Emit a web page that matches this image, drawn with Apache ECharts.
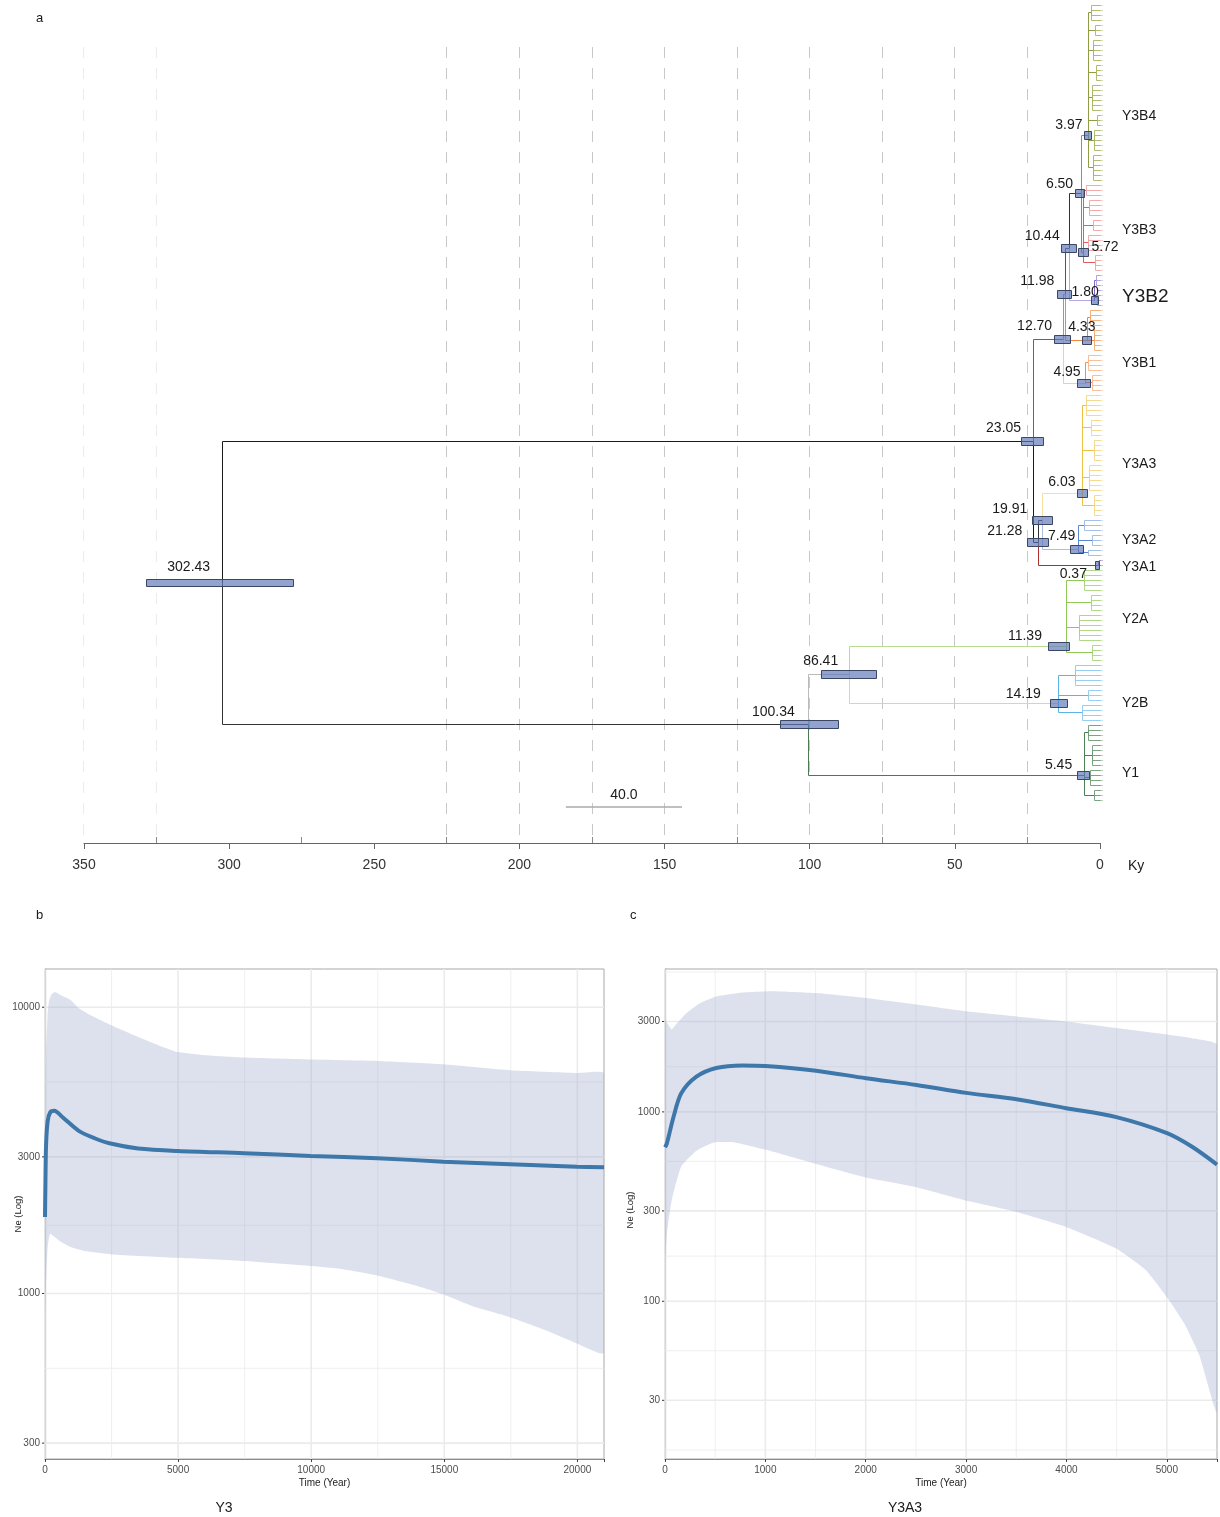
<!DOCTYPE html>
<html><head><meta charset="utf-8">
<script src="https://cdn.jsdelivr.net/npm/echarts@6/dist/echarts.min.js"></script>
<style>html,body{margin:0;padding:0;background:#fff}#c{width:1220px;height:1517px}</style>
</head><body><div id="c"></div>
<script>
// ---------------- DATA: tree (panel a) ----------------
const nodeLabels = ['302.43','23.05','100.34','12.70','21.28','11.98','10.44','6.50','3.97','5.72','1.80','4.33','4.95','19.91','6.03','7.49','0.37','86.41','11.39','14.19','5.45'];
const nodeAges   = [302.43, 23.05, 100.34, 12.70, 21.28, 11.98, 10.44, 6.50, 3.97, 5.72, 1.80, 4.33, 4.95, 19.91, 6.03, 7.49, 0.37, 86.41, 11.39, 14.19, 5.45];
const nodeCIUpper= [328.3, 27.2, 110.2, 15.8, 25.1, 14.7, 13.2, 8.3, 5.4, 7.5, 2.9, 6.1, 7.6, 23.4, 7.9, 10.0, 1.5, 96.1, 17.9, 17.2, 7.9];
const nodeCILower= [277.6, 19.6, 90.3, 10.3, 17.9, 9.8, 8.0, 5.1, 3.1, 4.2, 0.6, 2.9, 3.1, 16.5, 4.5, 5.5, 0.2, 77.2, 10.7, 11.4, 3.8];
const nodeRows   = [115.6, 87.2, 143.8, 66.8, 107.4, 57.8, 48.6, 37.6, 26, 49.4, 59, 67, 75.6, 103, 97.6, 108.8, 112, 133.8, 128.2, 139.6, 154];
const nodeParents= [-1, 0, 0, 1, 1, 3, 5, 6, 7, 7, 6, 5, 3, 4, 13, 13, 4, 2, 17, 17, 2];

const cladeNames     = ['Y3B4','Y3B3','Y3B2','Y3B1','Y3A3','Y3A2','Y3A1','Y2A','Y2B','Y1'];
const cladeLabelRows = [22.2, 45, 58.4, 71.6, 91.8, 107, 112.4, 122.8, 139.6, 153.6];

// sub-structure inside each clade (node index of clade root, sub-node ages, tips per sub-node)
const subRoots = [8, 9, 10, 11, 12, 14, 15, 16, 18, 19, 20];
const subGroupAges = [
  [2.9,1.6,2.2,1.2,2.6,1.0,1.9,2.4],
  [4.8,3.5,2.2,4.0,1.5],
  [1.2,0.8],
  [3.2,2.0],
  [3.8,2.6],
  [4.5,3.0,2.0,3.6,1.8],
  [5.5,2.5,4.0],
  [0.2],
  [5.5,3.0,7.0,2.5],
  [8.5,4.0,6.0],
  [4.0,2.5,3.2,1.8]
];
const subGroupTips = [
  [4,3,5,4,6,3,5,6],
  [3,4,3,4,4],
  [3,4],
  [4,5],
  [4,4],
  [5,4,5,6,5],
  [3,3,2],
  [2],
  [5,4,6,4],
  [5,3,4],
  [4,5,4,3]
];
const treeGridAges = [25,50,75,100,125,150,175,200,225];
const treeFaintGridAges = [325,350];
const treeMinorTickAges = [25,75,125,175,225,275,325];
const scaleBarLength = 40;

// ---------------- DATA: panel b (Y3) ----------------
const bMedT  = [0,15,40,100,200,345,672,1268,1862,2460,3500,4990,7480,9980,12480,14960,17470,19980,21000];
const bMedNe = [1850,2400,3300,4000,4300,4350,4120,3700,3485,3340,3210,3146,3090,3024,2970,2887,2826,2770,2760];
const bUpT   = [0,20,45,100,150,250,375,600,970,1268,1715,2490,3350,4250,4990,6030,7480,9980,12480,14960,17470,19980,21000];
const bUpNe  = [2000,4500,7000,9500,10500,11100,11300,11000,10580,9920,9380,8650,7980,7370,6975,6795,6670,6565,6490,6320,6020,5890,5870];
const bLoT   = [0,40,100,195,522,970,1490,2490,4990,7480,9980,11250,12480,13930,14970,16160,17470,18840,19980,21000];
const bLoNe  = [850,1100,1450,1617,1532,1452,1406,1369,1332,1297,1246,1213,1156,1066,992,896,826,742,669,620];
const bYMajor = [300,1000,3000,10000];
const bYMinor = [547.7,1732,5477];
const bXMajor = [0,5000,10000,15000,20000];
const bXMinor = [2500,7500,12500,17500];

// ---------------- DATA: panel c (Y3A3) ----------------
const cMedT  = [0,18,86,162,313,511,770,1000,1505,2003,2505,3000,3503,3996,4497,5002,5248,5500];
const cMedNe = [650,680,945,1254,1535,1706,1760,1747,1650,1505,1387,1260,1166,1046,938,772,656,527];
const cUpT   = [0,30,68,125,218,352,511,770,1073,1505,2003,2505,3000,3503,3996,4497,5002,5248,5500];
const cUpNe  = [3100,2900,2725,2960,3340,3760,4070,4270,4340,4240,3990,3690,3400,3190,3000,2770,2560,2450,2260];
const cLoT   = [0,20,68,162,313,486,695,1000,1505,2003,2505,3000,3503,3996,4497,4792,5002,5173,5325,5500];
const cLoNe  = [160,230,344,515,624,690,690,632,530,450,400,340,296,247,190,146,105,76.5,51.8,26];
const cYMajor = [30,100,300,1000,3000];
const cYMinor = [16.4,54.8,173.2,547.7,1732,5477];
const cXMajor = [0,1000,2000,3000,4000,5000];
const cXMinor = [500,1500,2500,3500,4500];

// ---------------- STYLE ----------------
const FONT = 'Liberation Sans, Arial, sans-serif';
const edgeStyle = {
  '23.05':'#1a1a1a','100.34':'#333','12.70':'#666','21.28':'#1a1a1a','11.98':'#999','10.44':'#555','6.50':'#333',
  '3.97':'#8e9c44','5.72':'#e25c5c','1.80':'#b8a8e0','4.33':'#f08838','4.95':'#f8c8a8','19.91':'#333',
  '6.03':'#f8e0a0','7.49':'#a8c0e8','0.37':'#b03030','86.41':'#bbbbbb','11.39':'#b8dc90','14.19':'#b0dcf4','5.45':'#4a7a50'
};
const cladeStyle = [
  ['#8e9c44','#a8b460'],['#e25c5c','#f0a0a0'],['#8466c8','#a898dc'],['#f08838','#f5a870'],['#f29050','#f8b890'],
  ['#eec045','#f4d684'],['#5a86d2','#9cb8e6'],['#7a60b0','#7a60b0'],['#90c858','#a8d47a'],['#5cb4e6','#8ccaee'],['#4a8052','#6c9a72']
];
const labelOffset = {
  '302.43':[-12,-16,'right'],'23.05':[-12,-13,'right'],'100.34':[-14,-12,'right'],'12.70':[-11,-13,'right'],
  '21.28':[-16,-11,'right'],'11.98':[-11,-13,'right'],'10.44':[-10,-12,'right'],'6.50':[-8,-9,'right'],
  '3.97':[-6,-10,'right'],'5.72':[8,-5,'left'],'1.80':[4,-8,'right'],'4.33':[8,-13,'right'],'4.95':[-5,-11,'right'],
  '19.91':[-15,-11,'right'],'6.03':[-7,-11,'right'],'7.49':[-3,-13,'right'],'0.37':[-12,9,'right'],
  '86.41':[-11,-13,'right'],'11.39':[-25,-10,'right'],'14.19':[-18,-9,'right'],'5.45':[-12,-10,'right']
};
const snap = v => Math.round(v - 0.5) + 0.5;

// ---------------- build tree edges ----------------
const edges = [], edgeColors = [], edgeW = [], tipRows = [], tipColors = [];
for (let i = 0; i < nodeAges.length; i++) {
  const p = nodeParents[i];
  if (p < 0) continue;
  edges.push([nodeAges[p], nodeRows[p], nodeAges[i], nodeRows[i]]);
  edgeColors.push(edgeStyle[nodeLabels[i]]); edgeW.push(1);
}
let tip = 0;
subRoots.forEach((ni, k) => {
  const ages = subGroupAges[k], counts = subGroupTips[k], st = cladeStyle[k];
  ages.forEach((ga, g) => {
    const n = counts[g];
    const gr = (tip + tip + n - 1) / 2;
    edges.push([nodeAges[ni], nodeRows[ni], ga, gr]); edgeColors.push(st[0]); edgeW.push(1);
    for (let j = 0; j < n; j++) {
      edges.push([ga, gr, 0, tip + j]); edgeColors.push(st[1]); edgeW.push(0.9);
      tipRows.push(tip + j); tipColors.push(st[1]);
    }
    tip += n;
  });
});
const ROW_MIN = -1, ROW_MAX = 167.6;

function txt(x, y, text, size, align, extra) {
  return Object.assign({type:'text', x:x, y:y, silent:true,
    style:{text:text, fill:'#1a1a1a', font: size + 'px ' + FONT, textAlign: align || 'left', textVerticalAlign:'middle', align: align||'left', verticalAlign:'middle'}}, extra || {});
}

// grid helpers for panels b/c
function gridSeries(xi, xMin, xMax, yMin, yMax, yMaj, yMin_, xMaj, xMin_) {
  const data = [];
  yMaj.forEach(v => data.push([0, v, 1]));
  yMin_.forEach(v => data.push([0, v, 0]));
  xMaj.forEach(v => data.push([1, v, 1]));
  xMin_.forEach(v => data.push([1, v, 0]));
  return {
    type:'custom', xAxisIndex:xi, yAxisIndex:xi, silent:true, z:1, clip:false,
    data: data,
    renderItem: (params, api) => {
      const dir = api.value(0), v = api.value(1), major = api.value(2) === 1;
      const st = {stroke:'#ebebeb', lineWidth: major ? 1.6 : 0.8};
      if (dir === 0) {
        const a = api.coord([xMin, v]), b = api.coord([xMax, v]);
        const children = [{type:'line', shape:{x1:a[0], y1:a[1], x2:b[0], y2:b[1]}, style:st}];
        if (major) {
          children.push({type:'line', shape:{x1:a[0]-3, y1:a[1], x2:a[0], y2:a[1]}, style:{stroke:'#333', lineWidth:1}});
          children.push({type:'text', x:a[0]-5, y:a[1], style:{text:String(v), fill:'#4d4d4d', font:'10px ' + FONT, textAlign:'right', textVerticalAlign:'middle', align:'right', verticalAlign:'middle'}});
        }
        return {type:'group', children: children};
      } else {
        const a = api.coord([v, yMin]), b = api.coord([v, yMax]);
        return {type:'line', shape:{x1:a[0], y1:a[1], x2:b[0], y2:b[1]}, style:st};
      }
    }
  };
}
function bandSeries(xi, upT, upNe, loT, loNe) {
  return {
    type:'custom', xAxisIndex:xi, yAxisIndex:xi, silent:true, z:2, clip:true,
    data:[[upT[0], upNe[0]]],
    renderItem: (params, api) => {
      const pts = [];
      upT.forEach((t, i) => pts.push(api.coord([t, upNe[i]])));
      for (let i = loT.length - 1; i >= 0; i--) pts.push(api.coord([loT[i], loNe[i]]));
      return {type:'polygon', shape:{points:pts, smooth:0.15}, style:{fill:'rgba(160,172,205,0.36)'}};
    }
  };
}

const xAxisPanel = (gi, max, interval, mod) => ({
  gridIndex:gi, type:'value', min:0, max:max, interval:interval,
  axisLine:{show:true, onZero:false, lineStyle:{color:'#8a8a8a', width:1.2}},
  axisTick:{show:true, length:3, lineStyle:{color:'#444'}},
  axisLabel:{fontSize:10, color:'#4d4d4d', fontFamily:FONT, margin:6, formatter: v => (v % mod === 0 ? String(v) : ''), showMaxLabel:true, hideOverlap:false},
  splitLine:{show:false},
  name:'Time (Year)', nameLocation:'middle', nameGap:19, nameTextStyle:{fontSize:10, color:'#222', fontFamily:FONT}
});
const yAxisPanel = (gi, min, max) => ({
  gridIndex:gi, type:'log', logBase:10, min:min, max:max,
  axisLine:{show:true, onZero:false, lineStyle:{color:'#8a8a8a', width:1.2}},
  axisTick:{show:false}, axisLabel:{show:false}, splitLine:{show:false}
});

const option = {
  animation:false,
  backgroundColor:'#fff',
  grid:[
    {left:84, top:0, width:1016, height:843, show:false},
    {left:45, top:969, width:559, height:490, show:true, borderColor:'#a8a8a8', borderWidth:1, backgroundColor:'transparent'},
    {left:665, top:969, width:554, height:490, show:true, borderColor:'#a8a8a8', borderWidth:1, backgroundColor:'transparent'}
  ],
  xAxis:[
    {gridIndex:0, type:'value', min:0, max:350, interval:50, inverse:true,
     axisLine:{show:true, onZero:false, lineStyle:{color:'#666', width:1}},
     axisTick:{show:true, length:6, lineStyle:{color:'#666'}},
     axisLabel:{fontSize:14, color:'#333', fontFamily:FONT, margin:15},
     splitLine:{show:false}},
    xAxisPanel(1, 21000, 5000, 5000),
    xAxisPanel(2, 5500, 1000, 1000)
  ],
  yAxis:[
    {gridIndex:0, type:'value', min:ROW_MIN, max:ROW_MAX, inverse:true, show:false},
    yAxisPanel(1, 264, 13600),
    yAxisPanel(2, 14.7, 5680)
  ],
  graphic:[
    txt(36, 18, 'a', 13), txt(36, 915, 'b', 13), txt(630, 915, 'c', 13),
    txt(1128, 866, 'Ky', 14),
    txt(224, 1508, 'Y3', 14, 'center'), txt(905, 1508, 'Y3A3', 14, 'center'),
    txt(18, 1214, 'Ne (Log)', 9.5, 'center', {rotation: Math.PI / 2}),
    txt(630, 1210, 'Ne (Log)', 9.5, 'center', {rotation: Math.PI / 2})
  ],
  series:[
    // dashed time grid
    {type:'custom', xAxisIndex:0, yAxisIndex:0, silent:true, z:1, clip:false,
     data: treeGridAges.map(a => [a, 1]).concat(treeFaintGridAges.map(a => [a, 0])),
     renderItem:(params, api) => {
       const a = api.coord([api.value(0), 8.4]), b = api.coord([api.value(0), ROW_MAX]);
       const x = snap(a[0]);
       return {type:'line', shape:{x1:x, y1:a[1], x2:x, y2:b[1]},
               style:{stroke: api.value(1) ? '#c8c8c8' : '#ececec', lineWidth:1, lineDash:[11,10]}};
     }},
    // minor ticks on tree axis
    {type:'custom', xAxisIndex:0, yAxisIndex:0, silent:true, z:3, clip:false,
     data: treeMinorTickAges.map(a => [a, ROW_MAX]),
     renderItem:(params, api) => {
       const a = api.coord([api.value(0), ROW_MAX]);
       const x = snap(a[0]);
       return {type:'line', shape:{x1:x, y1:a[1], x2:x, y2:a[1]-6}, style:{stroke:'#888', lineWidth:1}};
     }},
    // tree edges
    {type:'custom', xAxisIndex:0, yAxisIndex:0, silent:true, z:4, clip:false,
     data: edges,
     renderItem:(params, api) => {
       const pa = api.value(0), pr = api.value(1), ca = api.value(2), cr = api.value(3);
       const p1 = api.coord([pa, pr]), p2 = api.coord([pa, cr]), p3 = api.coord([ca, cr]);
       const pts = [[snap(p1[0]), snap(p1[1])], [snap(p2[0]), snap(p2[1])], [snap(p3[0]), snap(p3[1])]];
       return {type:'polyline', shape:{points:pts},
               style:{stroke: edgeColors[params.dataIndex], lineWidth: edgeW[params.dataIndex], fill:'none'}};
     }},
    // tip marks
    {type:'custom', xAxisIndex:0, yAxisIndex:0, silent:true, z:4, clip:false,
     data: tipRows.map(r => [0, r]),
     renderItem:(params, api) => {
       const p = api.coord([0, api.value(1)]);
       const y = snap(p[1]);
       return {type:'line', shape:{x1:p[0]-1, y1:y, x2:p[0]+3, y2:y}, style:{stroke: tipColors[params.dataIndex], lineWidth:0.8, opacity:0.6}};
     }},
    // node HPD bars
    {type:'custom', xAxisIndex:0, yAxisIndex:0, silent:true, z:5, clip:false,
     data: nodeAges.map((a, i) => [nodeCIUpper[i], nodeCILower[i], nodeRows[i]]),
     renderItem:(params, api) => {
       const p1 = api.coord([api.value(0), api.value(2)]), p2 = api.coord([api.value(1), api.value(2)]);
       const h = params.dataIndex === 0 ? 7 : 8;
       return {type:'rect', shape:{x:snap(p1[0]), y:snap(p1[1]-h/2), width:Math.round(p2[0]-p1[0]), height:h},
               style:{fill:'rgba(95,120,185,0.68)', stroke:'#3a4664', lineWidth:1}};
     }},
    // node labels
    {type:'custom', xAxisIndex:0, yAxisIndex:0, silent:true, z:6, clip:false,
     data: nodeAges.map((a, i) => [a, nodeRows[i]]),
     renderItem:(params, api) => {
       const p = api.coord([api.value(0), api.value(1)]);
       const lab = nodeLabels[params.dataIndex];
       const o = labelOffset[lab] || [-12,-12,'right'];
       return {type:'text', x:p[0]+o[0], y:p[1]+o[1],
               style:{text:lab, fill:'#1a1a1a', font:'14px ' + FONT, textAlign:o[2], textVerticalAlign:'middle', align:o[2], verticalAlign:'middle'}};
     }},
    // clade labels
    {type:'custom', xAxisIndex:0, yAxisIndex:0, silent:true, z:6, clip:false,
     data: cladeLabelRows.map(r => [0, r]),
     renderItem:(params, api) => {
       const p = api.coord([0, api.value(1)]);
       const name = cladeNames[params.dataIndex];
       const size = name === 'Y3B2' ? 19 : 14;
       return {type:'text', x:p[0]+22, y:p[1],
               style:{text:name, fill:'#1a1a1a', font: size + 'px ' + FONT, textAlign:'left', textVerticalAlign:'middle', align:'left', verticalAlign:'middle'}};
     }},
    // scale bar
    {type:'custom', xAxisIndex:0, yAxisIndex:0, silent:true, z:6, clip:false,
     data: [[184, 184 - scaleBarLength, 160.4]],
     renderItem:(params, api) => {
       const a = api.coord([api.value(0), api.value(2)]), b = api.coord([api.value(1), api.value(2)]);
       return {type:'group', children:[
         {type:'line', shape:{x1:a[0], y1:a[1], x2:b[0], y2:b[1]}, style:{stroke:'#aaa', lineWidth:1.5}},
         {type:'text', x:(a[0]+b[0])/2, y:a[1]-12, style:{text: scaleBarLength.toFixed(1), fill:'#1a1a1a', font:'14px ' + FONT, textAlign:'center', textVerticalAlign:'middle', align:'center', verticalAlign:'middle'}}
       ]};
     }},
    // panel b
    gridSeries(1, 0, 21000, 264, 13600, bYMajor, bYMinor, bXMajor, bXMinor),
    bandSeries(1, bUpT, bUpNe, bLoT, bLoNe),
    {type:'line', xAxisIndex:1, yAxisIndex:1, z:3, silent:true, showSymbol:false, smooth:0.3,
     data: bMedT.map((t, i) => [t, bMedNe[i]]), lineStyle:{color:'#3e77a9', width:4}},
    // panel c
    gridSeries(2, 0, 5500, 14.7, 5680, cYMajor, cYMinor, cXMajor, cXMinor),
    bandSeries(2, cUpT, cUpNe, cLoT, cLoNe),
    {type:'line', xAxisIndex:2, yAxisIndex:2, z:3, silent:true, showSymbol:false, smooth:0.3,
     data: cMedT.map((t, i) => [t, cMedNe[i]]), lineStyle:{color:'#3e77a9', width:4}}
  ]
};
const chart = echarts.init(document.getElementById('c'));
chart.setOption(option);
</script></body></html>
